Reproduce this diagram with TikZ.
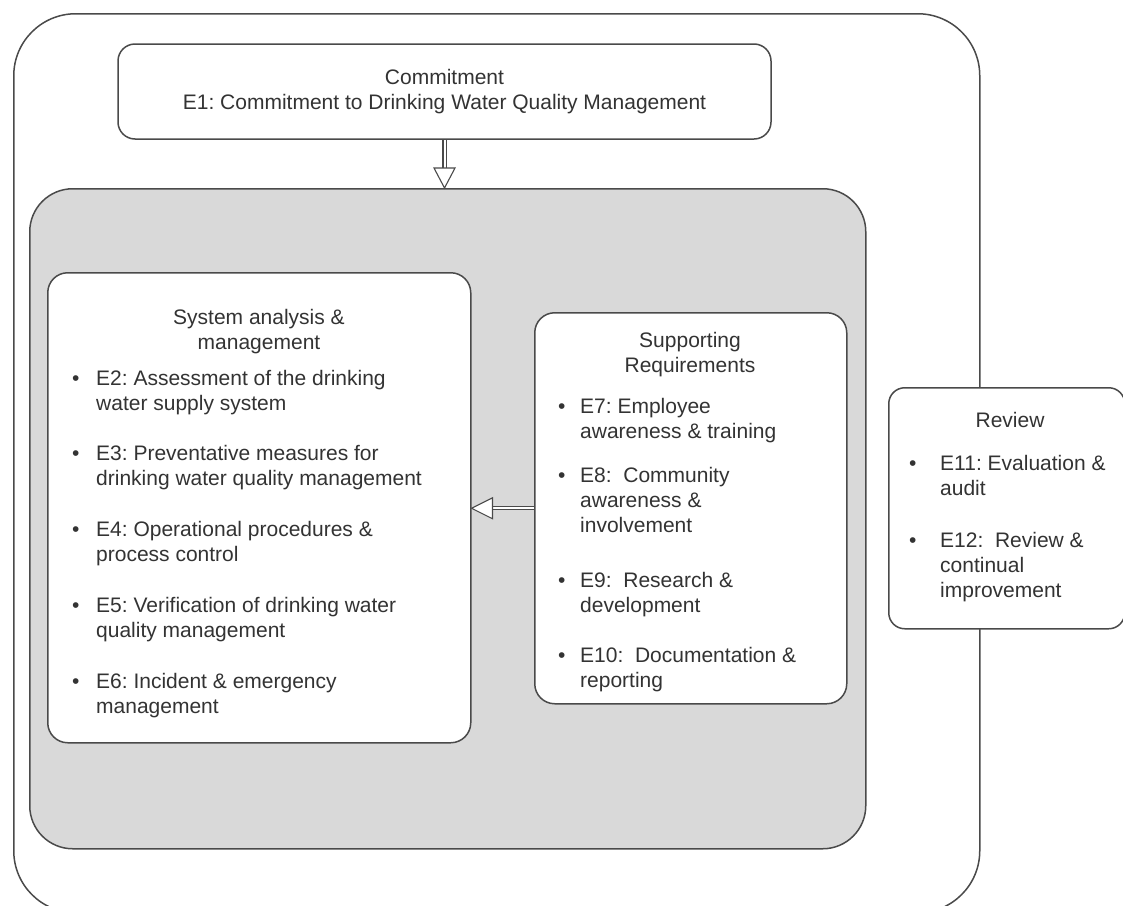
\documentclass[tikz,border=0pt]{standalone}
\usepackage{fontspec}
\setmainfont{Liberation Sans}
\usetikzlibrary{calc}
\definecolor{ln}{HTML}{4A4A4A}
\definecolor{tx}{HTML}{333333}
\definecolor{fillgray}{HTML}{D9D9D9}
\begin{document}
\frenchspacing
\begin{tikzpicture}[x=1pt,y=-1pt,
  box/.style={draw=ln, line width=1.5pt, fill=white, anchor=north west, inner sep=0pt},
  txt/.style={text=tx, font=\fontsize{21}{25}\selectfont, inner sep=0pt},
  item/.style={txt, anchor=base west, align=left},
  bul/.style={txt, anchor=base west},
  ttl/.style={txt, anchor=base, align=center},
  shaft/.style={draw=ln, line width=1.1pt, double=white, double distance=2pt},
  head/.style={draw=ln, line width=1.1pt, fill=white, line join=miter}]
\useasboundingbox (0,0) rectangle (1123,905);
\clip (0,0) rectangle (1123,905);
% boxes
\node[box, rounded corners=62pt, minimum width=966pt, minimum height=899pt] (outer) at (13,13) {};
\node[box, rounded corners=17pt, minimum width=653pt, minimum height=95pt, anchor=center, txt, align=center] (commit) at (444.5,91.5) {Commitment\\E1: Commitment to Drinking Water Quality Management};
\node[box, fill=fillgray, rounded corners=43pt, minimum width=836pt, minimum height=660pt] (gray) at (29,188) {};
\node[box, rounded corners=20pt, minimum width=423pt, minimum height=470pt] (sys) at (47,272) {};
\node[box, rounded corners=20pt, minimum width=312pt, minimum height=391pt] (sup) at (534,312) {};
\node[box, rounded corners=16pt, minimum width=236pt, minimum height=241pt] (rev) at (888,387) {};
% arrow commitment -> core
\coordinate (t1) at (commit.south |- gray.north);
\draw[shaft] (commit.south) -- ($(t1)+(0,-20)$);
\draw[head] ($(t1)+(-10.5,-20)$) -- ($(t1)+(10.5,-20)$) -- (t1) -- cycle;
% arrow supporting -> system
\coordinate (t2) at (sys.east |- sup.west);
\draw[shaft] (sup.west) -- ($(t2)+(21,0)$);
\draw[head] ($(t2)+(21,-10.5)$) -- ($(t2)+(21,10.5)$) -- (t2) -- cycle;
% system analysis (node base = last line)
\node[ttl] (systitle) at (259,349) {System analysis \&\\management};
\node[bul] (b2) at (72,385) {•};
\node[item] (e2) at (96,410) {E2: Assessment of the drinking\\water supply system};
\node[bul] (b3) at (72,460) {•};
\node[item] (e3) at (96,485) {E3: Preventative measures for\\drinking water quality management};
\node[bul] (b4) at (72,536) {•};
\node[item] (e4) at (96,561) {E4: Operational procedures \&\\process control};
\node[bul] (b5) at (72,612) {•};
\node[item] (e5) at (96,637) {E5: Verification of drinking water\\quality management};
\node[bul] (b6) at (72,688) {•};
\node[item] (e6) at (96,713) {E6: Incident \& emergency\\management};
% supporting
\node[ttl] (suptitle) at (690,372) {Supporting\\Requirements};
\node[bul] (b7) at (558,413) {•};
\node[item] (e7) at (580,438) {E7: Employee\\awareness \& training};
\node[bul] (b8) at (558,482) {•};
\node[item] (e8) at (580,532) {E8:\ \ Community\\awareness \&\\involvement};
\node[bul] (b9) at (558,587) {•};
\node[item] (e9) at (580,612) {E9:\ \ Research \&\\development};
\node[bul] (b10) at (558,662) {•};
\node[item] (e10) at (580,687) {E10:\ \ Documentation \&\\reporting};
% review
\node[ttl] (revtitle) at (1010,427) {Review};
\node[bul] (b11) at (909,470) {•};
\node[item] (e11) at (940,495) {E11: Evaluation \&\\audit};
\node[bul] (b12) at (909,547) {•};
\node[item] (e12) at (940,597) {E12:\ \ Review \&\\continual\\improvement};
\end{tikzpicture}
\end{document}
